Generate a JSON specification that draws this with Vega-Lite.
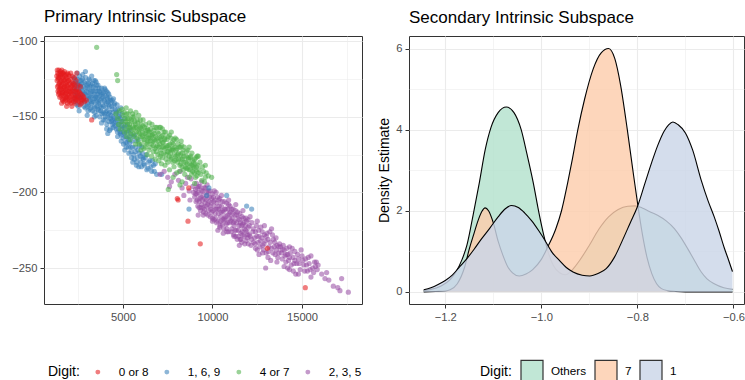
{
"$schema": "https://vega.github.io/schema/vega-lite/v6.json",
"padding": {"left": 11, "top": 7, "right": 0, "bottom": 0},
"spacing": 14,
"config": {
  "font": "Liberation Sans",
  "view": {"stroke": "#333333", "strokeWidth": 1},
  "axis": {"labelFont": "Liberation Sans", "labelFontSize": 11.2, "labelColor": "#4D4D4D", "tickColor": "#333333", "tickSize": 4, "labelPadding": 3, "domain": false, "gridColor": "#EBEBEB", "titleFont": "Liberation Sans", "titleFontWeight": "normal", "titleFontSize": 14, "titleColor": "#000000", "titlePadding": 4},
  "title": {"anchor": "start", "frame": "group", "fontSize": 17, "fontWeight": "normal", "color": "#000000", "font": "Liberation Sans", "baseline": "alphabetic", "offset": 9.5},
  "legend": {"titleFont": "Liberation Sans", "labelFont": "Liberation Sans", "titleFontSize": 14, "titleFontWeight": "normal", "titleColor": "#000000", "labelFontSize": 11.7, "labelColor": "#000000"}
},
"resolve": {"scale": {"color": "independent", "fill": "independent", "x": "independent", "y": "independent"}},
"hconcat": [
{
  "width": 318, "height": 268,
  "title": {"text": "Primary Intrinsic Subspace"},
  "data": {"values": [
{"x":2250,"y":-124,"d":"1, 6, 9"},{"x":2350,"y":-127,"d":"1, 6, 9"},{"x":2450,"y":-125,"d":"1, 6, 9"},{"x":2550,"y":-129,"d":"1, 6, 9"},{"x":2300,"y":-133,"d":"1, 6, 9"},{"x":2400,"y":-136,"d":"1, 6, 9"},{"x":2500,"y":-131,"d":"1, 6, 9"},{"x":2600,"y":-126,"d":"1, 6, 9"},{"x":2350,"y":-140,"d":"1, 6, 9"},{"x":2500,"y":-143,"d":"1, 6, 9"},{"x":2650,"y":-131,"d":"1, 6, 9"},{"x":2700,"y":-128,"d":"1, 6, 9"},{"x":2750,"y":-135,"d":"1, 6, 9"},
{"x":2850,"y":-127,"d":"1, 6, 9"},{"x":2900,"y":-131,"d":"1, 6, 9"},{"x":2950,"y":-138,"d":"1, 6, 9"},{"x":3000,"y":-129,"d":"1, 6, 9"},{"x":3050,"y":-134,"d":"1, 6, 9"},{"x":3100,"y":-142,"d":"1, 6, 9"},{"x":3150,"y":-130,"d":"1, 6, 9"},{"x":3200,"y":-137,"d":"1, 6, 9"},{"x":3250,"y":-133,"d":"1, 6, 9"},{"x":3300,"y":-128,"d":"1, 6, 9"},{"x":3350,"y":-140,"d":"1, 6, 9"},{"x":3400,"y":-135,"d":"1, 6, 9"},{"x":2900,"y":-144,"d":"1, 6, 9"},{"x":3050,"y":-146,"d":"1, 6, 9"},{"x":3200,"y":-144,"d":"1, 6, 9"},{"x":3100,"y":-125,"d":"1, 6, 9"},{"x":3300,"y":-146,"d":"1, 6, 9"},
{"x":3450,"y":-131,"d":"1, 6, 9"},{"x":3500,"y":-138,"d":"1, 6, 9"},{"x":3550,"y":-143,"d":"1, 6, 9"},{"x":3600,"y":-133,"d":"1, 6, 9"},{"x":3650,"y":-140,"d":"1, 6, 9"},{"x":3700,"y":-136,"d":"1, 6, 9"},{"x":3750,"y":-146,"d":"1, 6, 9"},{"x":3800,"y":-138,"d":"1, 6, 9"},{"x":3850,"y":-142,"d":"1, 6, 9"},{"x":3900,"y":-134,"d":"1, 6, 9"},{"x":3950,"y":-148,"d":"1, 6, 9"},{"x":4000,"y":-140,"d":"1, 6, 9"},{"x":3500,"y":-149,"d":"1, 6, 9"},{"x":3700,"y":-150,"d":"1, 6, 9"},{"x":3900,"y":-152,"d":"1, 6, 9"},{"x":3600,"y":-129,"d":"1, 6, 9"},{"x":3800,"y":-131,"d":"1, 6, 9"},
{"x":4050,"y":-144,"d":"1, 6, 9"},{"x":4100,"y":-137,"d":"1, 6, 9"},{"x":4150,"y":-150,"d":"1, 6, 9"},{"x":4200,"y":-142,"d":"1, 6, 9"},{"x":4250,"y":-147,"d":"1, 6, 9"},{"x":4300,"y":-139,"d":"1, 6, 9"},{"x":4350,"y":-153,"d":"1, 6, 9"},{"x":4400,"y":-145,"d":"1, 6, 9"},{"x":4450,"y":-150,"d":"1, 6, 9"},{"x":4500,"y":-142,"d":"1, 6, 9"},{"x":4550,"y":-156,"d":"1, 6, 9"},{"x":4600,"y":-148,"d":"1, 6, 9"},{"x":4100,"y":-155,"d":"1, 6, 9"},{"x":4300,"y":-158,"d":"1, 6, 9"},{"x":4460,"y":-157,"d":"1, 6, 9"},{"x":4200,"y":-135,"d":"1, 6, 9"},{"x":4400,"y":-139,"d":"1, 6, 9"},
{"x":4650,"y":-152,"d":"1, 6, 9"},{"x":4700,"y":-145,"d":"1, 6, 9"},{"x":4750,"y":-158,"d":"1, 6, 9"},{"x":4800,"y":-150,"d":"1, 6, 9"},{"x":4850,"y":-161,"d":"1, 6, 9"},{"x":4900,"y":-153,"d":"1, 6, 9"},{"x":4950,"y":-148,"d":"1, 6, 9"},{"x":5000,"y":-164,"d":"1, 6, 9"},{"x":5050,"y":-157,"d":"1, 6, 9"},{"x":5100,"y":-151,"d":"1, 6, 9"},{"x":5150,"y":-167,"d":"1, 6, 9"},{"x":5200,"y":-160,"d":"1, 6, 9"},{"x":5250,"y":-155,"d":"1, 6, 9"},{"x":5300,"y":-170,"d":"1, 6, 9"},{"x":4700,"y":-163,"d":"1, 6, 9"},{"x":4900,"y":-166,"d":"1, 6, 9"},{"x":5100,"y":-172,"d":"1, 6, 9"},
{"x":5350,"y":-163,"d":"1, 6, 9"},{"x":5400,"y":-158,"d":"1, 6, 9"},{"x":5450,"y":-173,"d":"1, 6, 9"},{"x":5500,"y":-166,"d":"1, 6, 9"},{"x":5600,"y":-175,"d":"1, 6, 9"},{"x":5650,"y":-162,"d":"1, 6, 9"},{"x":5700,"y":-170,"d":"1, 6, 9"},{"x":5800,"y":-177,"d":"1, 6, 9"},{"x":5850,"y":-165,"d":"1, 6, 9"},{"x":5900,"y":-174,"d":"1, 6, 9"},{"x":6000,"y":-180,"d":"1, 6, 9"},{"x":6050,"y":-170,"d":"1, 6, 9"},{"x":6100,"y":-177,"d":"1, 6, 9"},{"x":5550,"y":-180,"d":"1, 6, 9"},{"x":5750,"y":-182,"d":"1, 6, 9"},
{"x":6200,"y":-182,"d":"1, 6, 9"},{"x":6300,"y":-175,"d":"1, 6, 9"},{"x":6400,"y":-184,"d":"1, 6, 9"},{"x":6500,"y":-179,"d":"1, 6, 9"},{"x":6600,"y":-186,"d":"1, 6, 9"},{"x":6700,"y":-182,"d":"1, 6, 9"},{"x":6800,"y":-181,"d":"1, 6, 9"},{"x":6880,"y":-188,"d":"1, 6, 9"},{"x":7160,"y":-188,"d":"1, 6, 9"},{"x":6136,"y":-178,"d":"1, 6, 9"},{"x":4088,"y":-158,"d":"1, 6, 9"},{"x":3995,"y":-152,"d":"1, 6, 9"},
{"x":2600,"y":-137,"d":"1, 6, 9"},{"x":2800,"y":-139,"d":"1, 6, 9"},{"x":3000,"y":-136,"d":"1, 6, 9"},{"x":3150,"y":-139,"d":"1, 6, 9"},{"x":3400,"y":-143,"d":"1, 6, 9"},{"x":3600,"y":-145,"d":"1, 6, 9"},{"x":3450,"y":-126,"d":"1, 6, 9"},{"x":2750,"y":-122,"d":"1, 6, 9"},{"x":2450,"y":-121,"d":"1, 6, 9"},{"x":2200,"y":-128,"d":"1, 6, 9"},{"x":2300,"y":-131,"d":"1, 6, 9"},
{"x":2280,"y":-138,"d":"1, 6, 9"},{"x":2330,"y":-125,"d":"1, 6, 9"},{"x":2380,"y":-130,"d":"1, 6, 9"},{"x":2420,"y":-142,"d":"1, 6, 9"},{"x":2470,"y":-128,"d":"1, 6, 9"},{"x":2530,"y":-136,"d":"1, 6, 9"},{"x":2570,"y":-123,"d":"1, 6, 9"},{"x":2630,"y":-141,"d":"1, 6, 9"},{"x":2680,"y":-126,"d":"1, 6, 9"},{"x":2720,"y":-133,"d":"1, 6, 9"},{"x":2780,"y":-130,"d":"1, 6, 9"},{"x":2820,"y":-143,"d":"1, 6, 9"},{"x":2870,"y":-135,"d":"1, 6, 9"},{"x":2920,"y":-124,"d":"1, 6, 9"},{"x":2970,"y":-133,"d":"1, 6, 9"},{"x":3020,"y":-141,"d":"1, 6, 9"},{"x":3070,"y":-128,"d":"1, 6, 9"},{"x":3120,"y":-136,"d":"1, 6, 9"},{"x":3170,"y":-145,"d":"1, 6, 9"},{"x":3220,"y":-129,"d":"1, 6, 9"},{"x":3270,"y":-140,"d":"1, 6, 9"},{"x":3320,"y":-133,"d":"1, 6, 9"},{"x":3370,"y":-126,"d":"1, 6, 9"},{"x":3420,"y":-147,"d":"1, 6, 9"},{"x":3470,"y":-137,"d":"1, 6, 9"},{"x":3520,"y":-129,"d":"1, 6, 9"},{"x":3570,"y":-135,"d":"1, 6, 9"},{"x":3620,"y":-141,"d":"1, 6, 9"},{"x":3670,"y":-131,"d":"1, 6, 9"},{"x":3720,"y":-143,"d":"1, 6, 9"},{"x":3770,"y":-134,"d":"1, 6, 9"},{"x":3820,"y":-148,"d":"1, 6, 9"},{"x":3870,"y":-137,"d":"1, 6, 9"},{"x":3920,"y":-143,"d":"1, 6, 9"},{"x":3970,"y":-131,"d":"1, 6, 9"},{"x":4020,"y":-150,"d":"1, 6, 9"},{"x":4070,"y":-133,"d":"1, 6, 9"},{"x":4120,"y":-146,"d":"1, 6, 9"},{"x":4170,"y":-140,"d":"1, 6, 9"},{"x":4220,"y":-153,"d":"1, 6, 9"},{"x":4270,"y":-137,"d":"1, 6, 9"},{"x":4320,"y":-149,"d":"1, 6, 9"},{"x":4370,"y":-143,"d":"1, 6, 9"},{"x":4420,"y":-155,"d":"1, 6, 9"},{"x":4470,"y":-138,"d":"1, 6, 9"},{"x":4520,"y":-151,"d":"1, 6, 9"},{"x":4570,"y":-145,"d":"1, 6, 9"},{"x":4620,"y":-158,"d":"1, 6, 9"},{"x":4670,"y":-142,"d":"1, 6, 9"},{"x":4720,"y":-155,"d":"1, 6, 9"},{"x":4780,"y":-147,"d":"1, 6, 9"},{"x":4830,"y":-160,"d":"1, 6, 9"},{"x":4880,"y":-144,"d":"1, 6, 9"},{"x":4930,"y":-158,"d":"1, 6, 9"},{"x":4980,"y":-153,"d":"1, 6, 9"},{"x":5030,"y":-168,"d":"1, 6, 9"},{"x":5080,"y":-161,"d":"1, 6, 9"},{"x":5130,"y":-156,"d":"1, 6, 9"},{"x":5180,"y":-170,"d":"1, 6, 9"},{"x":5230,"y":-164,"d":"1, 6, 9"},{"x":5280,"y":-159,"d":"1, 6, 9"},{"x":5330,"y":-174,"d":"1, 6, 9"},{"x":5380,"y":-167,"d":"1, 6, 9"},{"x":5430,"y":-161,"d":"1, 6, 9"},{"x":5480,"y":-177,"d":"1, 6, 9"},{"x":5530,"y":-170,"d":"1, 6, 9"},{"x":5580,"y":-163,"d":"1, 6, 9"},{"x":5630,"y":-178,"d":"1, 6, 9"},{"x":5680,"y":-173,"d":"1, 6, 9"},{"x":5730,"y":-166,"d":"1, 6, 9"},{"x":5780,"y":-180,"d":"1, 6, 9"},{"x":5830,"y":-172,"d":"1, 6, 9"},{"x":5880,"y":-183,"d":"1, 6, 9"},{"x":5930,"y":-169,"d":"1, 6, 9"},{"x":5980,"y":-176,"d":"1, 6, 9"},{"x":6030,"y":-183,"d":"1, 6, 9"},{"x":6080,"y":-174,"d":"1, 6, 9"},{"x":6160,"y":-181,"d":"1, 6, 9"},{"x":6240,"y":-177,"d":"1, 6, 9"},{"x":6330,"y":-185,"d":"1, 6, 9"},{"x":6420,"y":-180,"d":"1, 6, 9"},{"x":6560,"y":-183,"d":"1, 6, 9"},{"x":6650,"y":-179,"d":"1, 6, 9"},{"x":6750,"y":-186,"d":"1, 6, 9"},{"x":2900,"y":-120,"d":"1, 6, 9"},{"x":3250,"y":-123,"d":"1, 6, 9"},{"x":3500,"y":-127,"d":"1, 6, 9"},{"x":4000,"y":-132,"d":"1, 6, 9"},{"x":4150,"y":-134,"d":"1, 6, 9"},{"x":2550,"y":-146,"d":"1, 6, 9"},{"x":3000,"y":-149,"d":"1, 6, 9"},{"x":3400,"y":-150,"d":"1, 6, 9"},{"x":3800,"y":-154,"d":"1, 6, 9"},{"x":4250,"y":-159,"d":"1, 6, 9"},{"x":4150,"y":-161,"d":"1, 6, 9"},
{"x":2320,"y":-135,"d":"1, 6, 9"},{"x":2410,"y":-128,"d":"1, 6, 9"},{"x":2490,"y":-138,"d":"1, 6, 9"},{"x":2560,"y":-133,"d":"1, 6, 9"},{"x":2610,"y":-129,"d":"1, 6, 9"},{"x":2690,"y":-137,"d":"1, 6, 9"},{"x":2740,"y":-125,"d":"1, 6, 9"},{"x":2810,"y":-134,"d":"1, 6, 9"},{"x":2860,"y":-140,"d":"1, 6, 9"},{"x":2930,"y":-128,"d":"1, 6, 9"},{"x":2990,"y":-143,"d":"1, 6, 9"},{"x":3040,"y":-131,"d":"1, 6, 9"},{"x":3090,"y":-138,"d":"1, 6, 9"},{"x":3140,"y":-126,"d":"1, 6, 9"},{"x":3190,"y":-133,"d":"1, 6, 9"},{"x":3240,"y":-141,"d":"1, 6, 9"},{"x":3290,"y":-136,"d":"1, 6, 9"},{"x":3340,"y":-130,"d":"1, 6, 9"},{"x":3390,"y":-138,"d":"1, 6, 9"},{"x":3440,"y":-144,"d":"1, 6, 9"},{"x":3490,"y":-133,"d":"1, 6, 9"},{"x":3540,"y":-140,"d":"1, 6, 9"},{"x":3590,"y":-137,"d":"1, 6, 9"},{"x":3640,"y":-146,"d":"1, 6, 9"},{"x":3690,"y":-133,"d":"1, 6, 9"},{"x":3740,"y":-139,"d":"1, 6, 9"},{"x":3790,"y":-144,"d":"1, 6, 9"},{"x":3840,"y":-135,"d":"1, 6, 9"},{"x":3890,"y":-147,"d":"1, 6, 9"},{"x":3940,"y":-139,"d":"1, 6, 9"},{"x":3990,"y":-136,"d":"1, 6, 9"},{"x":4040,"y":-147,"d":"1, 6, 9"},{"x":4090,"y":-141,"d":"1, 6, 9"},{"x":4140,"y":-138,"d":"1, 6, 9"},{"x":4190,"y":-148,"d":"1, 6, 9"},{"x":4240,"y":-143,"d":"1, 6, 9"},{"x":4290,"y":-151,"d":"1, 6, 9"},{"x":4340,"y":-140,"d":"1, 6, 9"},{"x":4390,"y":-152,"d":"1, 6, 9"},{"x":4440,"y":-147,"d":"1, 6, 9"},{"x":4490,"y":-154,"d":"1, 6, 9"},{"x":4540,"y":-141,"d":"1, 6, 9"},{"x":4590,"y":-153,"d":"1, 6, 9"},{"x":4640,"y":-147,"d":"1, 6, 9"},{"x":4690,"y":-160,"d":"1, 6, 9"},{"x":4740,"y":-150,"d":"1, 6, 9"},{"x":4790,"y":-155,"d":"1, 6, 9"},{"x":4840,"y":-151,"d":"1, 6, 9"},{"x":4890,"y":-162,"d":"1, 6, 9"},{"x":4940,"y":-156,"d":"1, 6, 9"},{"x":5020,"y":-160,"d":"1, 6, 9"},{"x":5120,"y":-163,"d":"1, 6, 9"},{"x":5220,"y":-167,"d":"1, 6, 9"},{"x":5320,"y":-165,"d":"1, 6, 9"},{"x":5420,"y":-170,"d":"1, 6, 9"},
{"x":7067,"y":-188,"d":"2, 3, 5"},{"x":7300,"y":-186,"d":"2, 3, 5"},{"x":7500,"y":-190,"d":"2, 3, 5"},{"x":7700,"y":-193,"d":"2, 3, 5"},{"x":7900,"y":-188,"d":"2, 3, 5"},{"x":8100,"y":-192,"d":"2, 3, 5"},{"x":8300,"y":-197,"d":"2, 3, 5"},{"x":8500,"y":-194,"d":"2, 3, 5"},{"x":8700,"y":-199,"d":"2, 3, 5"},{"x":8900,"y":-196,"d":"2, 3, 5"},{"x":8200,"y":-186,"d":"2, 3, 5"},{"x":8743,"y":-205,"d":"2, 3, 5"},{"x":7600,"y":-196,"d":"2, 3, 5"},{"x":8400,"y":-202,"d":"2, 3, 5"},{"x":8800,"y":-191,"d":"2, 3, 5"},{"x":9000,"y":-203,"d":"2, 3, 5"},
{"x":9050,"y":-198,"d":"2, 3, 5"},{"x":9100,"y":-194,"d":"2, 3, 5"},{"x":9150,"y":-205,"d":"2, 3, 5"},{"x":9200,"y":-200,"d":"2, 3, 5"},{"x":9250,"y":-210,"d":"2, 3, 5"},{"x":9300,"y":-196,"d":"2, 3, 5"},{"x":9350,"y":-203,"d":"2, 3, 5"},{"x":9400,"y":-208,"d":"2, 3, 5"},{"x":9450,"y":-199,"d":"2, 3, 5"},{"x":9500,"y":-213,"d":"2, 3, 5"},{"x":9550,"y":-204,"d":"2, 3, 5"},{"x":9600,"y":-197,"d":"2, 3, 5"},{"x":9650,"y":-209,"d":"2, 3, 5"},{"x":9700,"y":-202,"d":"2, 3, 5"},{"x":9750,"y":-215,"d":"2, 3, 5"},{"x":9800,"y":-206,"d":"2, 3, 5"},{"x":9850,"y":-199,"d":"2, 3, 5"},{"x":9900,"y":-211,"d":"2, 3, 5"},{"x":9950,"y":-204,"d":"2, 3, 5"},{"x":10000,"y":-217,"d":"2, 3, 5"},{"x":9488,"y":-215,"d":"2, 3, 5"},{"x":9200,"y":-215,"d":"2, 3, 5"},
{"x":10050,"y":-203,"d":"2, 3, 5"},{"x":10100,"y":-209,"d":"2, 3, 5"},{"x":10150,"y":-214,"d":"2, 3, 5"},{"x":10200,"y":-200,"d":"2, 3, 5"},{"x":10250,"y":-207,"d":"2, 3, 5"},{"x":10300,"y":-219,"d":"2, 3, 5"},{"x":10350,"y":-211,"d":"2, 3, 5"},{"x":10400,"y":-204,"d":"2, 3, 5"},{"x":10450,"y":-216,"d":"2, 3, 5"},{"x":10500,"y":-209,"d":"2, 3, 5"},{"x":10550,"y":-221,"d":"2, 3, 5"},{"x":10600,"y":-213,"d":"2, 3, 5"},{"x":10650,"y":-206,"d":"2, 3, 5"},{"x":10700,"y":-218,"d":"2, 3, 5"},{"x":10750,"y":-211,"d":"2, 3, 5"},{"x":10800,"y":-224,"d":"2, 3, 5"},{"x":10850,"y":-215,"d":"2, 3, 5"},{"x":10900,"y":-208,"d":"2, 3, 5"},{"x":10950,"y":-220,"d":"2, 3, 5"},{"x":11000,"y":-213,"d":"2, 3, 5"},{"x":10300,"y":-225,"d":"2, 3, 5"},{"x":10600,"y":-227,"d":"2, 3, 5"},
{"x":11050,"y":-226,"d":"2, 3, 5"},{"x":11100,"y":-217,"d":"2, 3, 5"},{"x":11150,"y":-211,"d":"2, 3, 5"},{"x":11200,"y":-222,"d":"2, 3, 5"},{"x":11250,"y":-215,"d":"2, 3, 5"},{"x":11300,"y":-229,"d":"2, 3, 5"},{"x":11350,"y":-220,"d":"2, 3, 5"},{"x":11400,"y":-213,"d":"2, 3, 5"},{"x":11450,"y":-225,"d":"2, 3, 5"},{"x":11500,"y":-218,"d":"2, 3, 5"},{"x":11550,"y":-231,"d":"2, 3, 5"},{"x":11600,"y":-222,"d":"2, 3, 5"},{"x":11650,"y":-216,"d":"2, 3, 5"},{"x":11700,"y":-228,"d":"2, 3, 5"},{"x":11750,"y":-220,"d":"2, 3, 5"},{"x":11800,"y":-234,"d":"2, 3, 5"},{"x":11850,"y":-225,"d":"2, 3, 5"},{"x":11900,"y":-219,"d":"2, 3, 5"},{"x":11950,"y":-230,"d":"2, 3, 5"},{"x":12000,"y":-223,"d":"2, 3, 5"},{"x":11500,"y":-235,"d":"2, 3, 5"},
{"x":12100,"y":-229,"d":"2, 3, 5"},{"x":12200,"y":-220,"d":"2, 3, 5"},{"x":12300,"y":-233,"d":"2, 3, 5"},{"x":12400,"y":-226,"d":"2, 3, 5"},{"x":12500,"y":-238,"d":"2, 3, 5"},{"x":12600,"y":-229,"d":"2, 3, 5"},{"x":12700,"y":-223,"d":"2, 3, 5"},{"x":12800,"y":-235,"d":"2, 3, 5"},{"x":12900,"y":-228,"d":"2, 3, 5"},{"x":13000,"y":-240,"d":"2, 3, 5"},{"x":13100,"y":-231,"d":"2, 3, 5"},{"x":13200,"y":-226,"d":"2, 3, 5"},{"x":13300,"y":-237,"d":"2, 3, 5"},{"x":13400,"y":-231,"d":"2, 3, 5"},{"x":13500,"y":-241,"d":"2, 3, 5"},{"x":12970,"y":-250,"d":"2, 3, 5"},{"x":12600,"y":-241,"d":"2, 3, 5"},{"x":13250,"y":-245,"d":"2, 3, 5"},{"x":13600,"y":-235,"d":"2, 3, 5"},{"x":13700,"y":-240,"d":"2, 3, 5"},
{"x":13800,"y":-236,"d":"2, 3, 5"},{"x":13900,"y":-244,"d":"2, 3, 5"},{"x":14000,"y":-238,"d":"2, 3, 5"},{"x":14100,"y":-246,"d":"2, 3, 5"},{"x":14200,"y":-241,"d":"2, 3, 5"},{"x":14300,"y":-236,"d":"2, 3, 5"},{"x":14400,"y":-248,"d":"2, 3, 5"},{"x":14500,"y":-243,"d":"2, 3, 5"},{"x":14515,"y":-252,"d":"2, 3, 5"},{"x":14600,"y":-239,"d":"2, 3, 5"},{"x":14700,"y":-247,"d":"2, 3, 5"},{"x":14800,"y":-244,"d":"2, 3, 5"},{"x":14900,"y":-251,"d":"2, 3, 5"},{"x":15000,"y":-242,"d":"2, 3, 5"},{"x":14200,"y":-250,"d":"2, 3, 5"},{"x":14650,"y":-254,"d":"2, 3, 5"},
{"x":15100,"y":-248,"d":"2, 3, 5"},{"x":15200,"y":-244,"d":"2, 3, 5"},{"x":15300,"y":-252,"d":"2, 3, 5"},{"x":15400,"y":-247,"d":"2, 3, 5"},{"x":15500,"y":-242,"d":"2, 3, 5"},{"x":15600,"y":-250,"d":"2, 3, 5"},{"x":15700,"y":-246,"d":"2, 3, 5"},{"x":15800,"y":-246,"d":"2, 3, 5"},{"x":15850,"y":-251,"d":"2, 3, 5"},{"x":15500,"y":-256,"d":"2, 3, 5"},
{"x":16283,"y":-257,"d":"2, 3, 5"},{"x":16376,"y":-253,"d":"2, 3, 5"},{"x":16749,"y":-262,"d":"2, 3, 5"},{"x":17121,"y":-265,"d":"2, 3, 5"},{"x":17214,"y":-257,"d":"2, 3, 5"},{"x":17587,"y":-266,"d":"2, 3, 5"},{"x":16500,"y":-258,"d":"2, 3, 5"},{"x":17000,"y":-263,"d":"2, 3, 5"},
{"x":9080,"y":-206,"d":"2, 3, 5"},{"x":9130,"y":-201,"d":"2, 3, 5"},{"x":9180,"y":-209,"d":"2, 3, 5"},{"x":9230,"y":-196,"d":"2, 3, 5"},{"x":9280,"y":-204,"d":"2, 3, 5"},{"x":9330,"y":-212,"d":"2, 3, 5"},{"x":9380,"y":-199,"d":"2, 3, 5"},{"x":9430,"y":-205,"d":"2, 3, 5"},{"x":9480,"y":-210,"d":"2, 3, 5"},{"x":9530,"y":-197,"d":"2, 3, 5"},{"x":9580,"y":-207,"d":"2, 3, 5"},{"x":9630,"y":-214,"d":"2, 3, 5"},{"x":9680,"y":-200,"d":"2, 3, 5"},{"x":9730,"y":-208,"d":"2, 3, 5"},{"x":9780,"y":-212,"d":"2, 3, 5"},{"x":9830,"y":-203,"d":"2, 3, 5"},{"x":9880,"y":-216,"d":"2, 3, 5"},{"x":9930,"y":-207,"d":"2, 3, 5"},{"x":9980,"y":-201,"d":"2, 3, 5"},{"x":10030,"y":-212,"d":"2, 3, 5"},{"x":10080,"y":-218,"d":"2, 3, 5"},{"x":10130,"y":-205,"d":"2, 3, 5"},{"x":10180,"y":-211,"d":"2, 3, 5"},{"x":10230,"y":-220,"d":"2, 3, 5"},{"x":10280,"y":-203,"d":"2, 3, 5"},{"x":10330,"y":-214,"d":"2, 3, 5"},{"x":10380,"y":-209,"d":"2, 3, 5"},{"x":10430,"y":-222,"d":"2, 3, 5"},{"x":10480,"y":-213,"d":"2, 3, 5"},{"x":10530,"y":-206,"d":"2, 3, 5"},{"x":10580,"y":-218,"d":"2, 3, 5"},{"x":10630,"y":-224,"d":"2, 3, 5"},{"x":10680,"y":-211,"d":"2, 3, 5"},{"x":10730,"y":-216,"d":"2, 3, 5"},{"x":10780,"y":-207,"d":"2, 3, 5"},{"x":10830,"y":-220,"d":"2, 3, 5"},{"x":10880,"y":-226,"d":"2, 3, 5"},{"x":10930,"y":-214,"d":"2, 3, 5"},{"x":10980,"y":-209,"d":"2, 3, 5"},{"x":11030,"y":-219,"d":"2, 3, 5"},{"x":11080,"y":-224,"d":"2, 3, 5"},{"x":11130,"y":-214,"d":"2, 3, 5"},{"x":11180,"y":-228,"d":"2, 3, 5"},{"x":11230,"y":-219,"d":"2, 3, 5"},{"x":11280,"y":-212,"d":"2, 3, 5"},{"x":11330,"y":-225,"d":"2, 3, 5"},{"x":11380,"y":-231,"d":"2, 3, 5"},{"x":11430,"y":-217,"d":"2, 3, 5"},{"x":11480,"y":-222,"d":"2, 3, 5"},{"x":11530,"y":-214,"d":"2, 3, 5"},{"x":11580,"y":-227,"d":"2, 3, 5"},{"x":11630,"y":-233,"d":"2, 3, 5"},{"x":11680,"y":-221,"d":"2, 3, 5"},{"x":11730,"y":-217,"d":"2, 3, 5"},{"x":11780,"y":-229,"d":"2, 3, 5"},{"x":11830,"y":-222,"d":"2, 3, 5"},{"x":11880,"y":-232,"d":"2, 3, 5"},{"x":11930,"y":-226,"d":"2, 3, 5"},{"x":11980,"y":-218,"d":"2, 3, 5"},{"x":12050,"y":-228,"d":"2, 3, 5"},{"x":12150,"y":-235,"d":"2, 3, 5"},{"x":12250,"y":-226,"d":"2, 3, 5"},{"x":12350,"y":-230,"d":"2, 3, 5"},{"x":12450,"y":-222,"d":"2, 3, 5"},{"x":12550,"y":-233,"d":"2, 3, 5"},{"x":12650,"y":-236,"d":"2, 3, 5"},{"x":12750,"y":-230,"d":"2, 3, 5"},{"x":12850,"y":-238,"d":"2, 3, 5"},{"x":12950,"y":-232,"d":"2, 3, 5"},{"x":13050,"y":-227,"d":"2, 3, 5"},{"x":13150,"y":-236,"d":"2, 3, 5"},{"x":13350,"y":-228,"d":"2, 3, 5"},{"x":13450,"y":-236,"d":"2, 3, 5"},{"x":13550,"y":-230,"d":"2, 3, 5"},{"x":13650,"y":-243,"d":"2, 3, 5"},{"x":13750,"y":-234,"d":"2, 3, 5"},{"x":13850,"y":-240,"d":"2, 3, 5"},{"x":13950,"y":-235,"d":"2, 3, 5"},{"x":14050,"y":-242,"d":"2, 3, 5"},{"x":14150,"y":-237,"d":"2, 3, 5"},{"x":14250,"y":-245,"d":"2, 3, 5"},{"x":14350,"y":-240,"d":"2, 3, 5"},{"x":14450,"y":-237,"d":"2, 3, 5"},{"x":14550,"y":-247,"d":"2, 3, 5"},{"x":14750,"y":-241,"d":"2, 3, 5"},{"x":14850,"y":-247,"d":"2, 3, 5"},{"x":14950,"y":-238,"d":"2, 3, 5"},{"x":15050,"y":-245,"d":"2, 3, 5"},{"x":15150,"y":-252,"d":"2, 3, 5"},{"x":15250,"y":-248,"d":"2, 3, 5"},{"x":15350,"y":-243,"d":"2, 3, 5"},{"x":15450,"y":-251,"d":"2, 3, 5"},{"x":15650,"y":-253,"d":"2, 3, 5"},{"x":15750,"y":-249,"d":"2, 3, 5"},{"x":15900,"y":-248,"d":"2, 3, 5"},{"x":16100,"y":-254,"d":"2, 3, 5"},
{"x":8600,"y":-190,"d":"2, 3, 5"},{"x":8950,"y":-200,"d":"2, 3, 5"},{"x":9400,"y":-193,"d":"2, 3, 5"},{"x":9700,"y":-195,"d":"2, 3, 5"},{"x":10100,"y":-199,"d":"2, 3, 5"},{"x":10500,"y":-202,"d":"2, 3, 5"},{"x":10900,"y":-205,"d":"2, 3, 5"},{"x":11300,"y":-208,"d":"2, 3, 5"},{"x":11700,"y":-212,"d":"2, 3, 5"},{"x":12100,"y":-216,"d":"2, 3, 5"},{"x":12500,"y":-219,"d":"2, 3, 5"},{"x":12900,"y":-222,"d":"2, 3, 5"},{"x":13300,"y":-224,"d":"2, 3, 5"},{"x":10000,"y":-219,"d":"2, 3, 5"},{"x":10400,"y":-223,"d":"2, 3, 5"},{"x":10800,"y":-226,"d":"2, 3, 5"},{"x":11200,"y":-229,"d":"2, 3, 5"},{"x":11600,"y":-231,"d":"2, 3, 5"},{"x":12000,"y":-234,"d":"2, 3, 5"},{"x":12400,"y":-237,"d":"2, 3, 5"},{"x":12800,"y":-240,"d":"2, 3, 5"},{"x":13100,"y":-243,"d":"2, 3, 5"},{"x":13600,"y":-246,"d":"2, 3, 5"},{"x":14000,"y":-249,"d":"2, 3, 5"},{"x":14300,"y":-251,"d":"2, 3, 5"},{"x":14800,"y":-254,"d":"2, 3, 5"},
{"x":9060,"y":-201,"d":"2, 3, 5"},{"x":9160,"y":-197,"d":"2, 3, 5"},{"x":9260,"y":-206,"d":"2, 3, 5"},{"x":9360,"y":-210,"d":"2, 3, 5"},{"x":9460,"y":-202,"d":"2, 3, 5"},{"x":9560,"y":-211,"d":"2, 3, 5"},{"x":9660,"y":-205,"d":"2, 3, 5"},{"x":9760,"y":-199,"d":"2, 3, 5"},{"x":9860,"y":-209,"d":"2, 3, 5"},{"x":9960,"y":-213,"d":"2, 3, 5"},{"x":10060,"y":-206,"d":"2, 3, 5"},{"x":10160,"y":-217,"d":"2, 3, 5"},{"x":10260,"y":-211,"d":"2, 3, 5"},{"x":10360,"y":-205,"d":"2, 3, 5"},{"x":10460,"y":-219,"d":"2, 3, 5"},{"x":10560,"y":-212,"d":"2, 3, 5"},{"x":10660,"y":-217,"d":"2, 3, 5"},{"x":10760,"y":-221,"d":"2, 3, 5"},{"x":10860,"y":-211,"d":"2, 3, 5"},{"x":10960,"y":-217,"d":"2, 3, 5"},{"x":11060,"y":-211,"d":"2, 3, 5"},{"x":11160,"y":-220,"d":"2, 3, 5"},{"x":11260,"y":-225,"d":"2, 3, 5"},{"x":11360,"y":-215,"d":"2, 3, 5"},{"x":11460,"y":-229,"d":"2, 3, 5"},{"x":11560,"y":-220,"d":"2, 3, 5"},{"x":11660,"y":-226,"d":"2, 3, 5"},{"x":11760,"y":-224,"d":"2, 3, 5"},{"x":11860,"y":-217,"d":"2, 3, 5"},{"x":11960,"y":-228,"d":"2, 3, 5"},{"x":12060,"y":-222,"d":"2, 3, 5"},{"x":12180,"y":-231,"d":"2, 3, 5"},{"x":12280,"y":-224,"d":"2, 3, 5"},{"x":12380,"y":-234,"d":"2, 3, 5"},{"x":12480,"y":-229,"d":"2, 3, 5"},{"x":12580,"y":-225,"d":"2, 3, 5"},{"x":12680,"y":-232,"d":"2, 3, 5"},{"x":12780,"y":-226,"d":"2, 3, 5"},{"x":12880,"y":-234,"d":"2, 3, 5"},{"x":13000,"y":-229,"d":"2, 3, 5"},{"x":13120,"y":-239,"d":"2, 3, 5"},{"x":13220,"y":-233,"d":"2, 3, 5"},{"x":13380,"y":-240,"d":"2, 3, 5"},{"x":13480,"y":-233,"d":"2, 3, 5"},{"x":13580,"y":-238,"d":"2, 3, 5"},{"x":13700,"y":-236,"d":"2, 3, 5"},{"x":13900,"y":-238,"d":"2, 3, 5"},{"x":14100,"y":-241,"d":"2, 3, 5"},{"x":14300,"y":-243,"d":"2, 3, 5"},{"x":14600,"y":-245,"d":"2, 3, 5"},
{"x":4600,"y":-148,"d":"4 or 7"},{"x":4700,"y":-151,"d":"4 or 7"},{"x":4800,"y":-146,"d":"4 or 7"},{"x":4900,"y":-153,"d":"4 or 7"},{"x":5000,"y":-149,"d":"4 or 7"},{"x":5050,"y":-155,"d":"4 or 7"},{"x":5100,"y":-151,"d":"4 or 7"},{"x":5150,"y":-158,"d":"4 or 7"},{"x":5200,"y":-148,"d":"4 or 7"},{"x":5250,"y":-154,"d":"4 or 7"},{"x":5300,"y":-160,"d":"4 or 7"},{"x":5350,"y":-151,"d":"4 or 7"},{"x":5400,"y":-157,"d":"4 or 7"},{"x":5450,"y":-162,"d":"4 or 7"},{"x":5500,"y":-153,"d":"4 or 7"},{"x":4850,"y":-158,"d":"4 or 7"},{"x":5200,"y":-163,"d":"4 or 7"},
{"x":5550,"y":-150,"d":"4 or 7"},{"x":5600,"y":-158,"d":"4 or 7"},{"x":5650,"y":-163,"d":"4 or 7"},{"x":5700,"y":-155,"d":"4 or 7"},{"x":5750,"y":-160,"d":"4 or 7"},{"x":5800,"y":-152,"d":"4 or 7"},{"x":5850,"y":-166,"d":"4 or 7"},{"x":5900,"y":-158,"d":"4 or 7"},{"x":5950,"y":-163,"d":"4 or 7"},{"x":6000,"y":-155,"d":"4 or 7"},{"x":6050,"y":-168,"d":"4 or 7"},{"x":6100,"y":-160,"d":"4 or 7"},{"x":6150,"y":-165,"d":"4 or 7"},{"x":6200,"y":-157,"d":"4 or 7"},{"x":6250,"y":-170,"d":"4 or 7"},{"x":6300,"y":-162,"d":"4 or 7"},{"x":6350,"y":-167,"d":"4 or 7"},{"x":6400,"y":-159,"d":"4 or 7"},{"x":6450,"y":-172,"d":"4 or 7"},{"x":6500,"y":-164,"d":"4 or 7"},{"x":5700,"y":-168,"d":"4 or 7"},{"x":6000,"y":-172,"d":"4 or 7"},
{"x":6550,"y":-158,"d":"4 or 7"},{"x":6600,"y":-168,"d":"4 or 7"},{"x":6650,"y":-162,"d":"4 or 7"},{"x":6700,"y":-173,"d":"4 or 7"},{"x":6750,"y":-165,"d":"4 or 7"},{"x":6800,"y":-157,"d":"4 or 7"},{"x":6850,"y":-170,"d":"4 or 7"},{"x":6900,"y":-164,"d":"4 or 7"},{"x":6950,"y":-175,"d":"4 or 7"},{"x":7000,"y":-161,"d":"4 or 7"},{"x":7050,"y":-168,"d":"4 or 7"},{"x":7100,"y":-172,"d":"4 or 7"},{"x":7150,"y":-163,"d":"4 or 7"},{"x":7200,"y":-177,"d":"4 or 7"},{"x":7250,"y":-167,"d":"4 or 7"},{"x":7300,"y":-160,"d":"4 or 7"},{"x":7350,"y":-171,"d":"4 or 7"},{"x":7400,"y":-175,"d":"4 or 7"},{"x":7450,"y":-165,"d":"4 or 7"},{"x":7500,"y":-180,"d":"4 or 7"},{"x":6600,"y":-176,"d":"4 or 7"},{"x":7000,"y":-179,"d":"4 or 7"},{"x":7200,"y":-158,"d":"4 or 7"},
{"x":7550,"y":-169,"d":"4 or 7"},{"x":7600,"y":-162,"d":"4 or 7"},{"x":7650,"y":-174,"d":"4 or 7"},{"x":7700,"y":-178,"d":"4 or 7"},{"x":7750,"y":-167,"d":"4 or 7"},{"x":7800,"y":-172,"d":"4 or 7"},{"x":7850,"y":-183,"d":"4 or 7"},{"x":7900,"y":-170,"d":"4 or 7"},{"x":7950,"y":-176,"d":"4 or 7"},{"x":8000,"y":-165,"d":"4 or 7"},{"x":8050,"y":-180,"d":"4 or 7"},{"x":8100,"y":-174,"d":"4 or 7"},{"x":8150,"y":-186,"d":"4 or 7"},{"x":8200,"y":-170,"d":"4 or 7"},{"x":8250,"y":-178,"d":"4 or 7"},{"x":8300,"y":-183,"d":"4 or 7"},{"x":8350,"y":-172,"d":"4 or 7"},{"x":8400,"y":-176,"d":"4 or 7"},{"x":8450,"y":-188,"d":"4 or 7"},{"x":8500,"y":-180,"d":"4 or 7"},{"x":7600,"y":-185,"d":"4 or 7"},{"x":8000,"y":-187,"d":"4 or 7"},
{"x":8550,"y":-173,"d":"4 or 7"},{"x":8600,"y":-184,"d":"4 or 7"},{"x":8650,"y":-178,"d":"4 or 7"},{"x":8700,"y":-190,"d":"4 or 7"},{"x":8750,"y":-177,"d":"4 or 7"},{"x":8800,"y":-182,"d":"4 or 7"},{"x":8850,"y":-174,"d":"4 or 7"},{"x":8900,"y":-186,"d":"4 or 7"},{"x":8950,"y":-180,"d":"4 or 7"},{"x":9000,"y":-178,"d":"4 or 7"},{"x":9050,"y":-190,"d":"4 or 7"},{"x":9100,"y":-183,"d":"4 or 7"},{"x":9150,"y":-176,"d":"4 or 7"},{"x":9200,"y":-187,"d":"4 or 7"},{"x":9300,"y":-180,"d":"4 or 7"},{"x":9400,"y":-192,"d":"4 or 7"},{"x":9500,"y":-186,"d":"4 or 7"},{"x":9600,"y":-190,"d":"4 or 7"},{"x":9767,"y":-189,"d":"4 or 7"},{"x":9953,"y":-190,"d":"4 or 7"},{"x":9000,"y":-194,"d":"4 or 7"},
{"x":4750,"y":-155,"d":"4 or 7"},{"x":4950,"y":-145,"d":"4 or 7"},{"x":5080,"y":-160,"d":"4 or 7"},{"x":5180,"y":-144,"d":"4 or 7"},{"x":5280,"y":-148,"d":"4 or 7"},{"x":5330,"y":-157,"d":"4 or 7"},{"x":5420,"y":-146,"d":"4 or 7"},{"x":5480,"y":-159,"d":"4 or 7"},{"x":5530,"y":-148,"d":"4 or 7"},{"x":5580,"y":-161,"d":"4 or 7"},{"x":5620,"y":-150,"d":"4 or 7"},{"x":5680,"y":-157,"d":"4 or 7"},{"x":5720,"y":-147,"d":"4 or 7"},{"x":5780,"y":-164,"d":"4 or 7"},{"x":5830,"y":-154,"d":"4 or 7"},{"x":5880,"y":-149,"d":"4 or 7"},{"x":5920,"y":-161,"d":"4 or 7"},{"x":5970,"y":-152,"d":"4 or 7"},{"x":6020,"y":-158,"d":"4 or 7"},{"x":6070,"y":-163,"d":"4 or 7"},{"x":6120,"y":-152,"d":"4 or 7"},{"x":6170,"y":-171,"d":"4 or 7"},{"x":6220,"y":-161,"d":"4 or 7"},{"x":6270,"y":-155,"d":"4 or 7"},{"x":6320,"y":-168,"d":"4 or 7"},{"x":6370,"y":-158,"d":"4 or 7"},{"x":6420,"y":-164,"d":"4 or 7"},{"x":6470,"y":-154,"d":"4 or 7"},{"x":6520,"y":-170,"d":"4 or 7"},{"x":6570,"y":-163,"d":"4 or 7"},{"x":6620,"y":-155,"d":"4 or 7"},{"x":6680,"y":-166,"d":"4 or 7"},{"x":6720,"y":-159,"d":"4 or 7"},{"x":6780,"y":-171,"d":"4 or 7"},{"x":6830,"y":-163,"d":"4 or 7"},{"x":6880,"y":-157,"d":"4 or 7"},{"x":6920,"y":-169,"d":"4 or 7"},{"x":6980,"y":-166,"d":"4 or 7"},{"x":7030,"y":-157,"d":"4 or 7"},{"x":7080,"y":-176,"d":"4 or 7"},{"x":7120,"y":-165,"d":"4 or 7"},{"x":7180,"y":-170,"d":"4 or 7"},{"x":7230,"y":-162,"d":"4 or 7"},{"x":7280,"y":-174,"d":"4 or 7"},{"x":7330,"y":-165,"d":"4 or 7"},{"x":7380,"y":-160,"d":"4 or 7"},{"x":7420,"y":-170,"d":"4 or 7"},{"x":7480,"y":-173,"d":"4 or 7"},{"x":7520,"y":-163,"d":"4 or 7"},{"x":7580,"y":-176,"d":"4 or 7"},{"x":7620,"y":-168,"d":"4 or 7"},{"x":7680,"y":-164,"d":"4 or 7"},{"x":7720,"y":-172,"d":"4 or 7"},{"x":7780,"y":-180,"d":"4 or 7"},{"x":7820,"y":-168,"d":"4 or 7"},{"x":7880,"y":-175,"d":"4 or 7"},{"x":7920,"y":-164,"d":"4 or 7"},{"x":7980,"y":-178,"d":"4 or 7"},{"x":8020,"y":-171,"d":"4 or 7"},{"x":8080,"y":-168,"d":"4 or 7"},{"x":8120,"y":-178,"d":"4 or 7"},{"x":8180,"y":-182,"d":"4 or 7"},{"x":8220,"y":-175,"d":"4 or 7"},{"x":8280,"y":-169,"d":"4 or 7"},{"x":8320,"y":-178,"d":"4 or 7"},{"x":8380,"y":-185,"d":"4 or 7"},{"x":8420,"y":-170,"d":"4 or 7"},{"x":8480,"y":-183,"d":"4 or 7"},{"x":8520,"y":-176,"d":"4 or 7"},{"x":8580,"y":-181,"d":"4 or 7"},{"x":8620,"y":-172,"d":"4 or 7"},{"x":8680,"y":-185,"d":"4 or 7"},{"x":8720,"y":-181,"d":"4 or 7"},{"x":8780,"y":-176,"d":"4 or 7"},{"x":8830,"y":-188,"d":"4 or 7"},{"x":8880,"y":-179,"d":"4 or 7"},{"x":8930,"y":-183,"d":"4 or 7"},{"x":8980,"y":-187,"d":"4 or 7"},{"x":9030,"y":-181,"d":"4 or 7"},{"x":9080,"y":-177,"d":"4 or 7"},{"x":9130,"y":-189,"d":"4 or 7"},{"x":9180,"y":-182,"d":"4 or 7"},{"x":9250,"y":-185,"d":"4 or 7"},{"x":9350,"y":-188,"d":"4 or 7"},{"x":9450,"y":-183,"d":"4 or 7"},{"x":9550,"y":-193,"d":"4 or 7"},{"x":9650,"y":-187,"d":"4 or 7"},{"x":6350,"y":-175,"d":"4 or 7"},{"x":6800,"y":-178,"d":"4 or 7"},{"x":7150,"y":-181,"d":"4 or 7"},{"x":7350,"y":-182,"d":"4 or 7"},{"x":5400,"y":-165,"d":"4 or 7"},{"x":5900,"y":-168,"d":"4 or 7"},{"x":6450,"y":-160,"d":"4 or 7"},{"x":7100,"y":-157,"d":"4 or 7"},{"x":7700,"y":-160,"d":"4 or 7"},{"x":8250,"y":-166,"d":"4 or 7"},{"x":8700,"y":-170,"d":"4 or 7"},{"x":9200,"y":-176,"d":"4 or 7"},{"x":9600,"y":-182,"d":"4 or 7"},
{"x":5060,"y":-147,"d":"4 or 7"},{"x":5160,"y":-153,"d":"4 or 7"},{"x":5260,"y":-151,"d":"4 or 7"},{"x":5360,"y":-155,"d":"4 or 7"},{"x":5460,"y":-152,"d":"4 or 7"},{"x":5560,"y":-156,"d":"4 or 7"},{"x":5660,"y":-153,"d":"4 or 7"},{"x":5760,"y":-157,"d":"4 or 7"},{"x":5860,"y":-160,"d":"4 or 7"},{"x":5960,"y":-157,"d":"4 or 7"},{"x":6060,"y":-162,"d":"4 or 7"},{"x":6110,"y":-156,"d":"4 or 7"},{"x":6190,"y":-165,"d":"4 or 7"},{"x":6280,"y":-159,"d":"4 or 7"},{"x":6330,"y":-163,"d":"4 or 7"},{"x":6400,"y":-166,"d":"4 or 7"},{"x":6490,"y":-160,"d":"4 or 7"},{"x":6540,"y":-166,"d":"4 or 7"},{"x":6610,"y":-162,"d":"4 or 7"},{"x":6690,"y":-169,"d":"4 or 7"},{"x":6740,"y":-161,"d":"4 or 7"},{"x":6810,"y":-166,"d":"4 or 7"},{"x":6870,"y":-173,"d":"4 or 7"},{"x":6940,"y":-160,"d":"4 or 7"},{"x":7010,"y":-170,"d":"4 or 7"},{"x":7060,"y":-164,"d":"4 or 7"},{"x":7140,"y":-174,"d":"4 or 7"},{"x":7210,"y":-167,"d":"4 or 7"},{"x":7270,"y":-170,"d":"4 or 7"},{"x":7340,"y":-164,"d":"4 or 7"},{"x":7410,"y":-178,"d":"4 or 7"},{"x":7460,"y":-169,"d":"4 or 7"},{"x":7540,"y":-173,"d":"4 or 7"},{"x":7630,"y":-171,"d":"4 or 7"},{"x":7690,"y":-177,"d":"4 or 7"},{"x":7760,"y":-171,"d":"4 or 7"},{"x":7840,"y":-165,"d":"4 or 7"},{"x":7890,"y":-179,"d":"4 or 7"},{"x":7960,"y":-172,"d":"4 or 7"},{"x":8060,"y":-175,"d":"4 or 7"},{"x":8140,"y":-170,"d":"4 or 7"},{"x":8230,"y":-181,"d":"4 or 7"},{"x":8310,"y":-174,"d":"4 or 7"},{"x":8410,"y":-180,"d":"4 or 7"},{"x":8540,"y":-184,"d":"4 or 7"},{"x":8640,"y":-177,"d":"4 or 7"},{"x":8760,"y":-185,"d":"4 or 7"},{"x":8860,"y":-182,"d":"4 or 7"},{"x":8990,"y":-184,"d":"4 or 7"},{"x":9110,"y":-186,"d":"4 or 7"},
{"x":3529,"y":-104,"d":"4 or 7"},{"x":4646,"y":-122,"d":"4 or 7"},{"x":4702,"y":-126,"d":"4 or 7"},{"x":7532,"y":-198,"d":"4 or 7"},{"x":8184,"y":-195,"d":"4 or 7"},{"x":8300,"y":-193,"d":"4 or 7"},{"x":7800,"y":-190,"d":"4 or 7"},
{"x":1350,"y":-121,"d":"0 or 8"},{"x":1420,"y":-119,"d":"0 or 8"},{"x":1500,"y":-120,"d":"0 or 8"},{"x":1580,"y":-119,"d":"0 or 8"},{"x":1650,"y":-121,"d":"0 or 8"},{"x":1730,"y":-120,"d":"0 or 8"},{"x":1820,"y":-122,"d":"0 or 8"},{"x":1900,"y":-121,"d":"0 or 8"},{"x":2000,"y":-123,"d":"0 or 8"},
{"x":1380,"y":-125,"d":"0 or 8"},{"x":1460,"y":-124,"d":"0 or 8"},{"x":1540,"y":-126,"d":"0 or 8"},{"x":1620,"y":-124,"d":"0 or 8"},{"x":1700,"y":-126,"d":"0 or 8"},{"x":1790,"y":-125,"d":"0 or 8"},{"x":1870,"y":-127,"d":"0 or 8"},{"x":1960,"y":-126,"d":"0 or 8"},{"x":2050,"y":-128,"d":"0 or 8"},{"x":2150,"y":-127,"d":"0 or 8"},
{"x":1400,"y":-129,"d":"0 or 8"},{"x":1480,"y":-131,"d":"0 or 8"},{"x":1560,"y":-129,"d":"0 or 8"},{"x":1640,"y":-131,"d":"0 or 8"},{"x":1720,"y":-130,"d":"0 or 8"},{"x":1800,"y":-132,"d":"0 or 8"},{"x":1880,"y":-130,"d":"0 or 8"},{"x":1970,"y":-133,"d":"0 or 8"},{"x":2060,"y":-131,"d":"0 or 8"},{"x":2160,"y":-133,"d":"0 or 8"},{"x":2260,"y":-131,"d":"0 or 8"},
{"x":1450,"y":-134,"d":"0 or 8"},{"x":1530,"y":-136,"d":"0 or 8"},{"x":1610,"y":-134,"d":"0 or 8"},{"x":1690,"y":-136,"d":"0 or 8"},{"x":1770,"y":-135,"d":"0 or 8"},{"x":1850,"y":-137,"d":"0 or 8"},{"x":1930,"y":-135,"d":"0 or 8"},{"x":2020,"y":-137,"d":"0 or 8"},{"x":2110,"y":-136,"d":"0 or 8"},{"x":2210,"y":-138,"d":"0 or 8"},{"x":2330,"y":-136,"d":"0 or 8"},{"x":2450,"y":-134,"d":"0 or 8"},
{"x":1600,"y":-138,"d":"0 or 8"},{"x":1700,"y":-140,"d":"0 or 8"},{"x":1800,"y":-139,"d":"0 or 8"},{"x":1900,"y":-141,"d":"0 or 8"},{"x":2000,"y":-140,"d":"0 or 8"},{"x":2100,"y":-141,"d":"0 or 8"},{"x":2250,"y":-140,"d":"0 or 8"},{"x":2400,"y":-139,"d":"0 or 8"},{"x":2550,"y":-137,"d":"0 or 8"},{"x":2700,"y":-139,"d":"0 or 8"},{"x":2850,"y":-140,"d":"0 or 8"},{"x":2600,"y":-142,"d":"0 or 8"},{"x":2140,"y":-143,"d":"0 or 8"},
{"x":2300,"y":-129,"d":"0 or 8"},{"x":2400,"y":-132,"d":"0 or 8"},{"x":2520,"y":-133,"d":"0 or 8"},{"x":2650,"y":-135,"d":"0 or 8"},{"x":1300,"y":-123,"d":"0 or 8"},{"x":1340,"y":-130,"d":"0 or 8"},
{"x":1320,"y":-126,"d":"0 or 8"},{"x":1370,"y":-133,"d":"0 or 8"},{"x":1410,"y":-122,"d":"0 or 8"},{"x":1440,"y":-128,"d":"0 or 8"},{"x":1470,"y":-137,"d":"0 or 8"},{"x":1510,"y":-123,"d":"0 or 8"},{"x":1550,"y":-132,"d":"0 or 8"},{"x":1590,"y":-127,"d":"0 or 8"},{"x":1630,"y":-139,"d":"0 or 8"},{"x":1660,"y":-128,"d":"0 or 8"},{"x":1680,"y":-122,"d":"0 or 8"},{"x":1710,"y":-133,"d":"0 or 8"},{"x":1750,"y":-138,"d":"0 or 8"},{"x":1780,"y":-128,"d":"0 or 8"},{"x":1830,"y":-134,"d":"0 or 8"},{"x":1860,"y":-124,"d":"0 or 8"},{"x":1890,"y":-138,"d":"0 or 8"},{"x":1920,"y":-129,"d":"0 or 8"},{"x":1950,"y":-122,"d":"0 or 8"},{"x":1990,"y":-131,"d":"0 or 8"},{"x":2030,"y":-139,"d":"0 or 8"},{"x":2070,"y":-125,"d":"0 or 8"},{"x":2090,"y":-134,"d":"0 or 8"},{"x":2130,"y":-130,"d":"0 or 8"},{"x":2180,"y":-123,"d":"0 or 8"},{"x":2200,"y":-135,"d":"0 or 8"},{"x":2230,"y":-128,"d":"0 or 8"},{"x":2280,"y":-137,"d":"0 or 8"},{"x":2320,"y":-141,"d":"0 or 8"},{"x":2360,"y":-133,"d":"0 or 8"},{"x":2380,"y":-126,"d":"0 or 8"},{"x":2430,"y":-137,"d":"0 or 8"},{"x":2480,"y":-129,"d":"0 or 8"},{"x":2500,"y":-139,"d":"0 or 8"},{"x":2580,"y":-134,"d":"0 or 8"},{"x":2620,"y":-130,"d":"0 or 8"},{"x":2680,"y":-141,"d":"0 or 8"},{"x":2740,"y":-136,"d":"0 or 8"},{"x":2790,"y":-138,"d":"0 or 8"},{"x":2950,"y":-139,"d":"0 or 8"},{"x":1570,"y":-141,"d":"0 or 8"},{"x":1850,"y":-143,"d":"0 or 8"},{"x":1480,"y":-127,"d":"0 or 8"},{"x":1400,"y":-135,"d":"0 or 8"},{"x":1560,"y":-122,"d":"0 or 8"},
{"x":1330,"y":-119,"d":"0 or 8"},{"x":1390,"y":-124,"d":"0 or 8"},{"x":1430,"y":-132,"d":"0 or 8"},{"x":1490,"y":-121,"d":"0 or 8"},{"x":1520,"y":-130,"d":"0 or 8"},{"x":1580,"y":-135,"d":"0 or 8"},{"x":1620,"y":-121,"d":"0 or 8"},{"x":1650,"y":-134,"d":"0 or 8"},{"x":1690,"y":-125,"d":"0 or 8"},{"x":1740,"y":-131,"d":"0 or 8"},{"x":1770,"y":-123,"d":"0 or 8"},{"x":1810,"y":-137,"d":"0 or 8"},{"x":1840,"y":-129,"d":"0 or 8"},{"x":1880,"y":-133,"d":"0 or 8"},{"x":1940,"y":-126,"d":"0 or 8"},{"x":1980,"y":-136,"d":"0 or 8"},{"x":2040,"y":-133,"d":"0 or 8"},{"x":2080,"y":-121,"d":"0 or 8"},{"x":2120,"y":-139,"d":"0 or 8"},{"x":2170,"y":-129,"d":"0 or 8"},{"x":2240,"y":-133,"d":"0 or 8"},{"x":2290,"y":-124,"d":"0 or 8"},{"x":2340,"y":-138,"d":"0 or 8"},{"x":2470,"y":-136,"d":"0 or 8"},{"x":2560,"y":-140,"d":"0 or 8"},{"x":2660,"y":-138,"d":"0 or 8"},{"x":2810,"y":-137,"d":"0 or 8"},
{"x":8687,"y":-211,"d":"1, 6, 9"},{"x":9674,"y":-202,"d":"1, 6, 9"},{"x":10790,"y":-202,"d":"1, 6, 9"},{"x":11907,"y":-209,"d":"1, 6, 9"},{"x":12187,"y":-211,"d":"1, 6, 9"},{"x":9800,"y":-197,"d":"1, 6, 9"},
{"x":2413,"y":-121,"d":"0 or 8"},{"x":3250,"y":-152,"d":"0 or 8"},{"x":8034,"y":-204,"d":"0 or 8"},{"x":8080,"y":-205,"d":"0 or 8"},{"x":8670,"y":-197,"d":"0 or 8"},{"x":8631,"y":-219,"d":"0 or 8"},{"x":9318,"y":-234,"d":"0 or 8"},{"x":13061,"y":-237,"d":"0 or 8"},{"x":15184,"y":-263,"d":"0 or 8"}
  ]},
  "mark": {"type": "point", "filled": true, "size": 27, "opacity": 0.57, "strokeWidth": 0},
  "encoding": {
    "x": {"field": "x", "type": "quantitative", "scale": {"domain": [587, 18352], "nice": false, "zero": false},
      "axis": {"title": null, "format": "d", "values": [2500, 5000, 7500, 10000, 12500, 15000, 17500],
        "labelExpr": "datum.value % 5000 == 0 ? datum.label : ''",
        "tickOpacity": {"condition": {"test": "datum.value % 5000 != 0", "value": 0}, "value": 1},
        "gridWidth": {"condition": {"test": "datum.value % 5000 != 0", "value": 0.55}, "value": 1.1}}},
    "y": {"field": "y", "type": "quantitative", "scale": {"domain": [-273.8, -96.5], "nice": false, "zero": false},
      "axis": {"title": null, "format": "d", "values": [-250, -225, -200, -175, -150, -125, -100],
        "labelExpr": "datum.value % 50 == 0 ? datum.label : ''",
        "tickOpacity": {"condition": {"test": "datum.value % 50 != 0", "value": 0}, "value": 1},
        "gridWidth": {"condition": {"test": "datum.value % 50 != 0", "value": 0.55}, "value": 1.1}}},
    "color": {"field": "d", "type": "nominal",
      "scale": {"domain": ["0 or 8", "1, 6, 9", "4 or 7", "2, 3, 5"], "range": ["#E41A1C", "#377EB8", "#4DAF4A", "#984EA3"]},
      "legend": {"title": "Digit:", "orient": "none", "legendX": 4, "legendY": 330, "direction": "horizontal", "titleOrient": "left", "symbolType": "circle", "symbolSize": 24, "titlePadding": 12, "labelOffset": 15, "columnPadding": 12}}
  }
},
{
  "width": 335, "height": 268,
  "title": {"text": "Secondary Intrinsic Subspace"},
  "data": {"values": [
{"g":"Others","v":-1.245,"dens":0.03},{"g":"Others","v":-1.23,"dens":0.06},{"g":"Others","v":-1.21,"dens":0.14},{"g":"Others","v":-1.19,"dens":0.3},{"g":"Others","v":-1.178,"dens":0.49},{"g":"Others","v":-1.165,"dens":0.8},{"g":"Others","v":-1.155,"dens":1.15},{"g":"Others","v":-1.142,"dens":1.9},{"g":"Others","v":-1.129,"dens":2.7},{"g":"Others","v":-1.117,"dens":3.5},{"g":"Others","v":-1.105,"dens":4.05},{"g":"Others","v":-1.09,"dens":4.42},{"g":"Others","v":-1.073,"dens":4.56},{"g":"Others","v":-1.057,"dens":4.42},{"g":"Others","v":-1.042,"dens":4.0},{"g":"Others","v":-1.03,"dens":3.4},{"g":"Others","v":-1.017,"dens":2.7},{"g":"Others","v":-1.005,"dens":1.95},{"g":"Others","v":-0.995,"dens":1.4},{"g":"Others","v":-0.985,"dens":0.95},{"g":"Others","v":-0.975,"dens":0.65},{"g":"Others","v":-0.962,"dens":0.47},{"g":"Others","v":-0.95,"dens":0.42},{"g":"Others","v":-0.935,"dens":0.55},{"g":"Others","v":-0.92,"dens":0.78},{"g":"Others","v":-0.9,"dens":1.15},{"g":"Others","v":-0.88,"dens":1.55},{"g":"Others","v":-0.86,"dens":1.85},{"g":"Others","v":-0.84,"dens":2.03},{"g":"Others","v":-0.82,"dens":2.11},{"g":"Others","v":-0.805,"dens":2.12},{"g":"Others","v":-0.79,"dens":2.07},{"g":"Others","v":-0.775,"dens":1.98},{"g":"Others","v":-0.758,"dens":1.89},{"g":"Others","v":-0.74,"dens":1.75},{"g":"Others","v":-0.723,"dens":1.56},{"g":"Others","v":-0.71,"dens":1.35},{"g":"Others","v":-0.695,"dens":1.06},{"g":"Others","v":-0.68,"dens":0.75},{"g":"Others","v":-0.667,"dens":0.49},{"g":"Others","v":-0.655,"dens":0.32},{"g":"Others","v":-0.64,"dens":0.2},{"g":"Others","v":-0.62,"dens":0.1},{"g":"Others","v":-0.602,"dens":0.06},
{"g":"7","v":-1.245,"dens":0.0},{"g":"7","v":-1.22,"dens":0.01},{"g":"7","v":-1.2,"dens":0.02},{"g":"7","v":-1.19,"dens":0.05},{"g":"7","v":-1.175,"dens":0.2},{"g":"7","v":-1.16,"dens":0.6},{"g":"7","v":-1.15,"dens":1.06},{"g":"7","v":-1.14,"dens":1.45},{"g":"7","v":-1.132,"dens":1.75},{"g":"7","v":-1.124,"dens":1.98},{"g":"7","v":-1.117,"dens":2.07},{"g":"7","v":-1.11,"dens":2.0},{"g":"7","v":-1.1,"dens":1.7},{"g":"7","v":-1.09,"dens":1.25},{"g":"7","v":-1.08,"dens":0.9},{"g":"7","v":-1.07,"dens":0.62},{"g":"7","v":-1.06,"dens":0.47},{"g":"7","v":-1.046,"dens":0.39},{"g":"7","v":-1.032,"dens":0.44},{"g":"7","v":-1.018,"dens":0.55},{"g":"7","v":-1.0,"dens":0.8},{"g":"7","v":-0.987,"dens":1.1},{"g":"7","v":-0.97,"dens":1.55},{"g":"7","v":-0.958,"dens":2.0},{"g":"7","v":-0.945,"dens":2.7},{"g":"7","v":-0.935,"dens":3.3},{"g":"7","v":-0.924,"dens":4.0},{"g":"7","v":-0.91,"dens":4.75},{"g":"7","v":-0.892,"dens":5.5},{"g":"7","v":-0.875,"dens":5.9},{"g":"7","v":-0.86,"dens":6.0},{"g":"7","v":-0.847,"dens":5.75},{"g":"7","v":-0.835,"dens":5.1},{"g":"7","v":-0.821,"dens":4.0},{"g":"7","v":-0.81,"dens":3.05},{"g":"7","v":-0.799,"dens":2.13},{"g":"7","v":-0.79,"dens":1.45},{"g":"7","v":-0.78,"dens":0.85},{"g":"7","v":-0.77,"dens":0.45},{"g":"7","v":-0.76,"dens":0.2},{"g":"7","v":-0.75,"dens":0.08},{"g":"7","v":-0.737,"dens":0.03},{"g":"7","v":-0.72,"dens":0.01},{"g":"7","v":-0.7,"dens":0.0},{"g":"7","v":-0.602,"dens":0.0},
{"g":"1","v":-1.245,"dens":0.05},{"g":"1","v":-1.23,"dens":0.1},{"g":"1","v":-1.215,"dens":0.18},{"g":"1","v":-1.2,"dens":0.28},{"g":"1","v":-1.185,"dens":0.42},{"g":"1","v":-1.17,"dens":0.62},{"g":"1","v":-1.155,"dens":0.82},{"g":"1","v":-1.14,"dens":1.05},{"g":"1","v":-1.125,"dens":1.3},{"g":"1","v":-1.108,"dens":1.56},{"g":"1","v":-1.09,"dens":1.85},{"g":"1","v":-1.075,"dens":2.05},{"g":"1","v":-1.062,"dens":2.13},{"g":"1","v":-1.048,"dens":2.08},{"g":"1","v":-1.035,"dens":1.95},{"g":"1","v":-1.02,"dens":1.75},{"g":"1","v":-1.005,"dens":1.5},{"g":"1","v":-0.993,"dens":1.28},{"g":"1","v":-0.978,"dens":0.98},{"g":"1","v":-0.962,"dens":0.77},{"g":"1","v":-0.948,"dens":0.6},{"g":"1","v":-0.934,"dens":0.49},{"g":"1","v":-0.915,"dens":0.41},{"g":"1","v":-0.899,"dens":0.39},{"g":"1","v":-0.882,"dens":0.45},{"g":"1","v":-0.865,"dens":0.57},{"g":"1","v":-0.848,"dens":0.85},{"g":"1","v":-0.83,"dens":1.3},{"g":"1","v":-0.815,"dens":1.7},{"g":"1","v":-0.8,"dens":2.1},{"g":"1","v":-0.785,"dens":2.65},{"g":"1","v":-0.77,"dens":3.2},{"g":"1","v":-0.758,"dens":3.6},{"g":"1","v":-0.745,"dens":3.95},{"g":"1","v":-0.735,"dens":4.12},{"g":"1","v":-0.726,"dens":4.19},{"g":"1","v":-0.715,"dens":4.12},{"g":"1","v":-0.7,"dens":3.92},{"g":"1","v":-0.685,"dens":3.5},{"g":"1","v":-0.667,"dens":2.75},{"g":"1","v":-0.653,"dens":2.25},{"g":"1","v":-0.64,"dens":1.85},{"g":"1","v":-0.63,"dens":1.5},{"g":"1","v":-0.619,"dens":1.08},{"g":"1","v":-0.61,"dens":0.78},{"g":"1","v":-0.602,"dens":0.5}
  ]},
  "encoding": {
    "x": {"field": "v", "type": "quantitative", "scale": {"domain": [-1.2756, -0.578], "nice": false, "zero": false},
      "axis": {"title": null, "format": ".1f", "values": [-1.2, -1.1, -1.0, -0.9, -0.8, -0.7, -0.6],
        "labelExpr": "abs(round(datum.value * 10)) % 2 == 0 ? datum.label : ''",
        "tickOpacity": {"condition": {"test": "abs(round(datum.value * 10)) % 2 == 1", "value": 0}, "value": 1},
        "gridWidth": {"condition": {"test": "abs(round(datum.value * 10)) % 2 == 1", "value": 0.55}, "value": 1.1}}},
    "y": {"field": "dens", "type": "quantitative", "scale": {"domain": [-0.3, 6.31], "nice": false, "zero": false},
      "axis": {"title": "Density Estimate", "format": "d", "values": [0, 1, 2, 3, 4, 5, 6],
        "labelExpr": "datum.value % 2 == 0 ? datum.label : ''",
        "tickOpacity": {"condition": {"test": "datum.value % 2 == 1", "value": 0}, "value": 1},
        "gridWidth": {"condition": {"test": "datum.value % 2 == 1", "value": 0.55}, "value": 1.1}}}
  },
  "layer": [
    {"transform": [{"filter": "datum.g == 'Others'"}], "mark": {"type": "area", "fillOpacity": 0.82, "interpolate": "monotone"},
     "encoding": {"y2": {"datum": 0}, "fill": {"field": "g", "type": "nominal", "scale": {"domain": ["Others", "7", "1"], "range": ["#B3E2CD", "#FDCDAC", "#CBD5E8"]},
       "legend": {"title": "Digit:", "orient": "none", "legendX": 71, "legendY": 323, "direction": "horizontal", "titleOrient": "left", "symbolType": "square", "symbolSize": 484, "titlePadding": 8, "labelOffset": 7, "columnPadding": 5,
         "encode": {"symbols": {"update": {"fillOpacity": {"value": 0.82}, "stroke": {"value": "#333333"}, "strokeWidth": {"value": 1.2}, "opacity": {"value": 1}}}}}}}},
    {"transform": [{"filter": "datum.g == 'Others'"}], "mark": {"type": "line", "color": "#000000", "strokeWidth": 1.1, "interpolate": "monotone"}, "encoding": {}},
    {"transform": [{"filter": "datum.g == '7'"}], "mark": {"type": "area", "fillOpacity": 0.82, "interpolate": "monotone"},
     "encoding": {"y2": {"datum": 0}, "fill": {"field": "g", "type": "nominal", "scale": {"domain": ["Others", "7", "1"], "range": ["#B3E2CD", "#FDCDAC", "#CBD5E8"]}}}},
    {"transform": [{"filter": "datum.g == '7'"}], "mark": {"type": "line", "color": "#000000", "strokeWidth": 1.1, "interpolate": "monotone"}, "encoding": {}},
    {"transform": [{"filter": "datum.g == '1'"}], "mark": {"type": "area", "fillOpacity": 0.82, "interpolate": "monotone"},
     "encoding": {"y2": {"datum": 0}, "fill": {"field": "g", "type": "nominal", "scale": {"domain": ["Others", "7", "1"], "range": ["#B3E2CD", "#FDCDAC", "#CBD5E8"]}}}},
    {"transform": [{"filter": "datum.g == '1'"}], "mark": {"type": "line", "color": "#000000", "strokeWidth": 1.1, "interpolate": "monotone"}, "encoding": {}}
  ]
}
]
}
